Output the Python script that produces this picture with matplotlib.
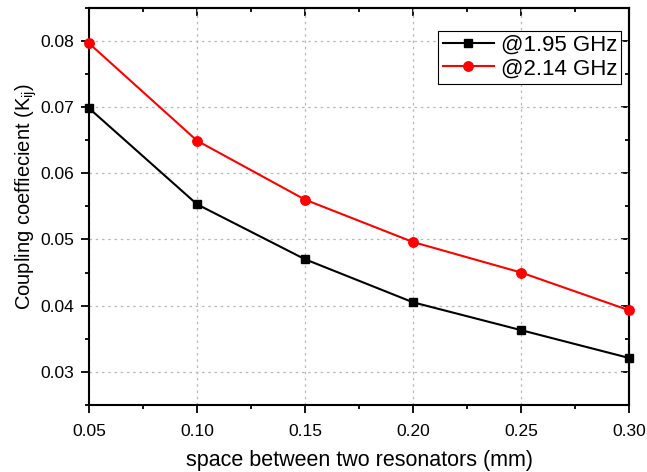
import numpy as np
import matplotlib
matplotlib.use("Agg")
import matplotlib.pyplot as plt
from matplotlib.ticker import MultipleLocator, NullFormatter

plt.rcParams['font.family'] = ['Liberation Sans', 'DejaVu Sans']
plt.rcParams['mathtext.fontset'] = 'custom'
plt.rcParams['mathtext.rm'] = 'Liberation Sans'
plt.rcParams['mathtext.it'] = 'Liberation Sans'

# spacing between resonators (mm) and coupling coefficients
spacing = [0.05, 0.10, 0.15, 0.20, 0.25, 0.30]
k_195 = [0.0698, 0.0553, 0.0470, 0.0405, 0.0363, 0.0321]
k_214 = [0.0796, 0.0649, 0.0560, 0.0496, 0.0450, 0.0393]

fig = plt.figure(figsize=(6.47, 4.72), dpi=100)
ax = fig.add_axes([0.1376, 0.142, 0.8346, 0.842])

ax.plot(spacing, k_195, color='black', marker='s', markersize=6, lw=1.5,
        label='@1.95 GHz', clip_on=False, zorder=3)
ax.plot(spacing, k_214, color='red', marker='o', markersize=6.8, lw=1.5,
        label='@2.14 GHz', clip_on=False, zorder=3)

ax.set_xlim(0.05, 0.30)
ax.set_ylim(0.025, 0.085)
ax.xaxis.set_major_locator(MultipleLocator(0.05))
ax.xaxis.set_minor_locator(MultipleLocator(0.025))
ax.yaxis.set_major_locator(MultipleLocator(0.01))
ax.yaxis.set_minor_locator(MultipleLocator(0.005))
ax.xaxis.set_major_formatter(lambda v, p: f"{v:.2f}")
ax.yaxis.set_major_formatter(lambda v, p: f"{v:.2f}")

# outward ticks on bottom/left
ax.tick_params(which='both', direction='out', width=1.3)
ax.tick_params(which='major', length=5.5, labelsize=12.5)
ax.tick_params(which='minor', length=3)
ax.tick_params(axis='x', pad=8)
ax.tick_params(axis='y', pad=5)
for s in ax.spines.values():
    s.set_linewidth(1.5)

# inward ticks on top/right, no labels
top = ax.secondary_xaxis('top')
right = ax.secondary_yaxis('right')
top.xaxis.set_major_locator(MultipleLocator(0.05))
top.xaxis.set_minor_locator(MultipleLocator(0.025))
right.yaxis.set_major_locator(MultipleLocator(0.01))
right.yaxis.set_minor_locator(MultipleLocator(0.005))
for sec in (top, right):
    sec.tick_params(which='both', direction='in', width=1.3)
    sec.tick_params(which='major', length=5.5)
    sec.tick_params(which='minor', length=3)
    for s in sec.spines.values():
        s.set_linewidth(1.5)
top.xaxis.set_major_formatter(NullFormatter())
right.yaxis.set_major_formatter(NullFormatter())

ax.grid(True, which='major', color='#b8b8b8', linestyle=(0, (2, 3)), linewidth=0.9)
ax.set_axisbelow(True)

ax.set_xlabel('space between two resonators (mm)', fontsize=15.5, labelpad=8)
ax.set_ylabel('Coupling coeffiecient (K$_{ij}$)', fontsize=14.5)
ax.yaxis.set_label_coords(-0.093, 0.525)

leg = ax.legend(loc='upper right', bbox_to_anchor=(0.986, 0.942), fontsize=16,
                frameon=True, fancybox=False, edgecolor='black', framealpha=1,
                handlelength=2.3, handletextpad=0.3, borderpad=0.2,
                labelspacing=0.1, borderaxespad=0)
leg.get_frame().set_linewidth(0.8)

fig.savefig('out.png', dpi=100)
